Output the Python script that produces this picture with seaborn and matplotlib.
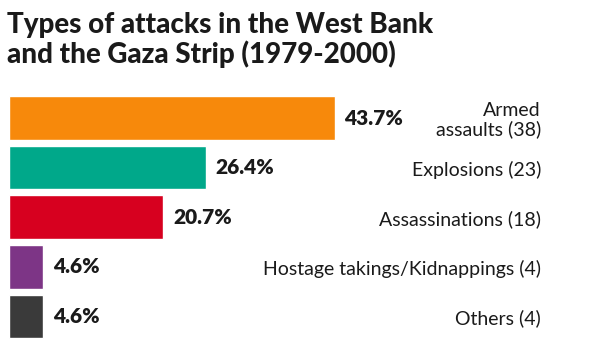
import matplotlib
matplotlib.use("Agg")
import matplotlib.pyplot as plt
import seaborn as sns
import pandas as pd

categories = ["Armed\nassaults (38)", "Explosions (23)", "Assassinations (18)",
              "Hostage takings/Kidnappings (4)", "Others (4)"]
percent = [43.7, 26.4, 20.7, 4.6, 4.6]
pct_labels = ["43.7%", "26.4%", "20.7%", "4.6%", "4.6%"]
colors = ["#F7890B", "#00A88A", "#D7001F", "#7D3586", "#3A3A3A"]

sns.set_theme(style="white")
plt.rcParams['font.family'] = ['Lato', 'DejaVu Sans']

df = pd.DataFrame({"cat": categories, "pct": percent})

fig = plt.figure(figsize=(5.91, 3.48), dpi=100)
ax = fig.add_axes([0, 0, 1, 1])
sns.barplot(data=df, y="cat", x="pct", hue="cat", palette=colors, orient="h",
            width=0.88, ax=ax, legend=False, saturation=1)

pxw = 7.45
ax.set_xlim(-9 / pxw, (591 - 9) / pxw)
ax.set_ylim(4 + (348 - 316.5) / 49.6, -118 / 49.6)
ax.axis("off")

for i, (v, lab) in enumerate(zip(percent, pct_labels)):
    ax.text(v + 10 / pxw, i, lab, ha="left", va="center", fontsize=15,
            fontweight="heavy", color="#1a1a1a")
    ax.text((541 - 9) / pxw, i + 0.04, categories[i], ha="right", va="center",
            fontsize=14, color="#1a1a1a", linespacing=1.1, multialignment="right")

fig.text(7 / 591, 1 - 63.5 / 348, "Types of attacks in the West Bank\nand the Gaza Strip (1979-2000)",
         ha="left", va="baseline", fontsize=20, fontweight="black",
         color="#1a1a1a", linespacing=1.145)

fig.savefig("out.png", dpi=100)
